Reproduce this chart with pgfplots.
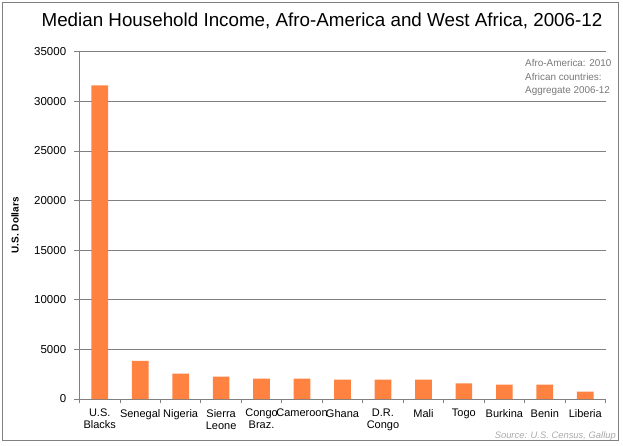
\documentclass[border=0pt]{standalone}
\usepackage{fontspec}
\setmainfont{Liberation Sans}
\usepackage{pgfplots}
\pgfplotsset{compat=1.18}
\definecolor{barorange}{RGB}{255,130,65}
\definecolor{gridgray}{RGB}{128,128,128}
\definecolor{notegray}{RGB}{120,120,120}
\definecolor{srcgray}{RGB}{170,170,170}
\begin{document}
\begin{tikzpicture}[x=1pt,y=1pt]
\useasboundingbox (0,0) rectangle (623,445);
\draw[gridgray, line width=1pt] (2.5,4.3) rectangle (618.7,442.7);
\node[anchor=base, font=\fontsize{18.8}{22}\selectfont] at (322,418.3) {Median Household Income, Afro-America and West Africa, 2006-12};
\begin{axis}[
  at={(79.5pt,46pt)}, anchor=south west, scale only axis,
  width=526pt, height=347.3pt,
  xmin=-0.5, xmax=12.5, ymin=0, ymax=35000,
  axis x line*=bottom, axis y line*=left,
  axis line style={gridgray, line width=0.8pt, -},
  ymajorgrids, grid style={gridgray, line width=0.8pt},
  tick align=outside,
  major tick length=5.3pt,
  tick style={gridgray, line width=0.8pt},
  ytick={0,5000,...,35000},
  scaled y ticks=false,
  yticklabel style={font=\fontsize{11.5}{13}\selectfont, /pgf/number format/assume math mode=true, /pgf/number format/1000 sep={}, xshift=-4.5pt},
  xtick={-0.5,0.5,...,12.5},
  xticklabels={},
  xtick style={/pgfplots/major tick length=4.3pt},
  extra x ticks={0,...,12},
  extra x tick labels={{U.S.\\Blacks},Senegal,Nigeria,{Sierra\\Leone},{Congo\\Braz.},Cameroon,Ghana,{D.R.\\Congo},Mali,Togo,Burkina,Benin,Liberia},
  extra x tick style={major tick length=0pt, tick style={draw=none}, xticklabel style={align=center, font=\fontsize{11}{12}\selectfont, yshift=-6.5pt}},
  ylabel={U.S. Dollars},
  ylabel style={at={(axis description cs:-0.1226,0.5)}, anchor=center, font=\bfseries\fontsize{10}{12}\selectfont},
  clip=false,
]
\addplot[ybar, bar width=16.7pt, fill=barorange, draw=none] coordinates {
(0,31600) (1,3850) (2,2550) (3,2250) (4,2050) (5,2050) (6,1950) (7,1950) (8,1950) (9,1580) (10,1440) (11,1440) (12,740)
};
\end{axis}
\node[anchor=base west, text=notegray, font=\fontsize{9.9}{12}\selectfont, inner sep=0pt] at (525,378) {Afro-America: 2010};
\node[anchor=base west, text=notegray, font=\fontsize{9.9}{12}\selectfont, inner sep=0pt] at (525,364.5) {African countries:};
\node[anchor=base west, text=notegray, font=\fontsize{9.9}{12}\selectfont, inner sep=0pt] at (525,351) {Aggregate 2006-12};
\node[anchor=base east, text=srcgray, font=\itshape\fontsize{9.4}{11}\selectfont, inner sep=0pt] at (616,6.3) {Source: U.S. Census, Gallup};
\end{tikzpicture}
\end{document}
